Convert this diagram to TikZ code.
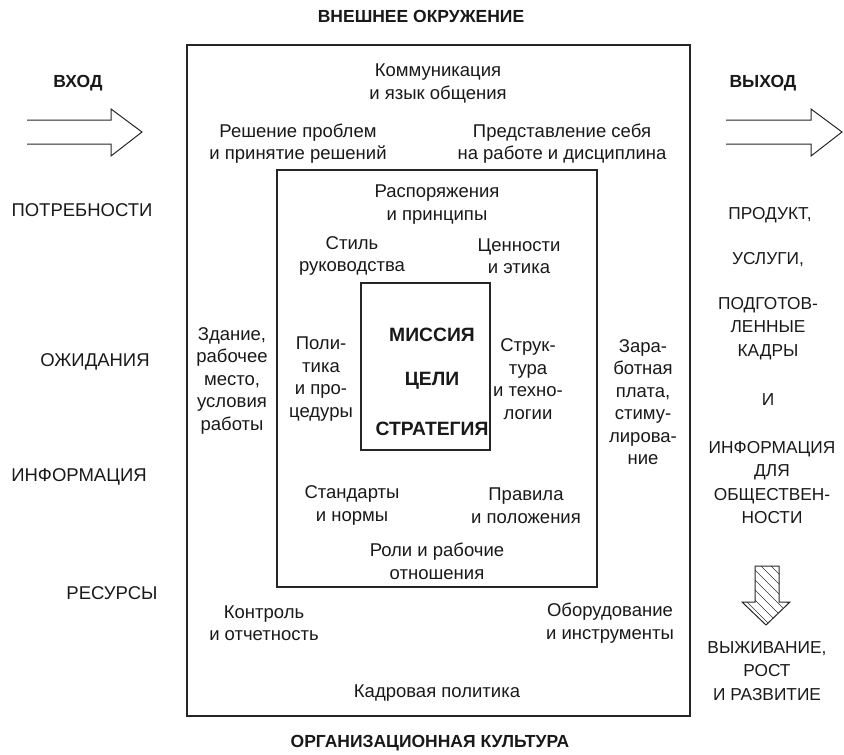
\documentclass[tikz,border=0pt]{standalone}
\usepackage{fontspec}
\setmainfont{Liberation Sans}
\begin{document}
\begin{tikzpicture}[x=1pt,y=-1pt,
  txt/.style={inner sep=0pt, align=center, text=black!90, font=\fontsize{18.5}{22.5}\selectfont},
  rt/.style={inner sep=0pt, align=center, text=black!90, font=\fontsize{17.3}{23.5}\selectfont},
  hd/.style={inner sep=0pt, align=center, text=black!90, font=\bfseries\fontsize{17.5}{21}\selectfont},
  core/.style={inner sep=0pt, align=center, text=black!90, font=\bfseries\fontsize{19.3}{22}\selectfont},
  frame/.style={draw=black!85, line width=1.3pt},
  outline/.style={draw=black!85, line width=1pt, line join=miter}]
\useasboundingbox (0,0) rectangle (844,755);
% boxes
\draw[frame, line width=1.7pt] (187,45) rectangle (690,716);
\draw[frame] (277,170) rectangle (597,587);
\draw[frame] (361,283) rectangle (490,450);
% titles
\node[hd] (env) at (421,16) {ВНЕШНЕЕ ОКРУЖЕНИЕ};
\node[hd] (cult) at (430,743) {ОРГАНИЗАЦИОННАЯ КУЛЬТУРА};
\node[hd] (in) at (78,83) {ВХОД};
\node[hd] (out) at (763,83) {ВЫХОД};
% input arrow
\draw[outline] (27,120) -- (111,120) -- (111,109) -- (142,132) -- (111,156) -- (111,144) -- (27,144);
% output arrow
\draw[outline] (726,120) -- (811,120) -- (811,109) -- (842,132) -- (811,156) -- (811,144) -- (726,144);
% left column
\node[txt] (n1) at (82,210) {ПОТРЕБНОСТИ};
\node[txt] (n2) at (95,362) {ОЖИДАНИЯ};
\node[txt] (n3) at (79,477) {ИНФОРМАЦИЯ};
\node[txt] (n4) at (112,593) {РЕСУРСЫ};
% right column
\node[rt] (o1) at (770,215) {ПРОДУКТ,};
\node[rt] (o2) at (768,260) {УСЛУГИ,};
\node[rt] (o3) at (768,328.5) {ПОДГОТОВ-\\ЛЕННЫЕ\\КАДРЫ};
\node[rt] (o4) at (768,400) {И};
\node[rt] (o5) at (772,482.5) {ИНФОРМАЦИЯ\\ДЛЯ\\ОБЩЕСТВЕН-\\НОСТИ};
\node[rt] (o6) at (767,671) {ВЫЖИВАНИЕ,\\РОСТ\\И РАЗВИТИЕ};
% hatched down arrow
\begin{scope}
\clip (755,566) -- (779,566) -- (779,602) -- (790,602) -- (766,625) -- (742,602) -- (755,602) -- cycle;
\foreach \i in {-80,-70,...,80} \draw[black!80, line width=0.7pt] (735,560+\i) -- (800,625+\i);
\end{scope}
\draw[outline] (755,566) -- (779,566) -- (779,602) -- (790,602) -- (766,625) -- (742,602) -- (755,602) -- cycle;
% outer ring
\node[txt] (t1) at (438,83.5) {Коммуникация\\и язык общения};
\node[txt] (t2) at (298,143.5) {Решение проблем\\и принятие решений};
\node[txt] (t3) at (562,143.5) {Представление себя\\на работе и дисциплина};
\node[txt] (t4) at (232,380.5) {Здание,\\рабочее\\место,\\условия\\работы};
\node[txt] (t5) at (643,402) {Зара-\\ботная\\плата,\\стиму-\\лирова-\\ние};
\node[txt] (t6) at (264,623) {Контроль\\и отчетность};
\node[txt] (t7) at (610,623) {Оборудование\\и инструменты};
\node[txt] (t8) at (437,693) {Кадровая политика};
% middle ring
\node[txt] (m1) at (437,204.5) {Распоряжения\\и принципы};
\node[txt] (m2) at (352,256) {Стиль\\руководства};
\node[txt] (m3) at (519,256) {Ценности\\и этика};
\node[txt] (m4) at (321,379) {Поли-\\тика\\и про-\\цедуры};
\node[txt] (m5) at (528,379) {Струк-\\тура\\и техно-\\логии};
\node[txt] (m6) at (352,505.5) {Стандарты\\и нормы};
\node[txt] (m7) at (526,505.5) {Правила\\и положения};
\node[txt] (m8) at (437,561.5) {Роли и рабочие\\отношения};
% core
\node[core] (c1) at (432,335) {МИССИЯ};
\node[core] (c2) at (432,381) {ЦЕЛИ};
\node[core] (c3) at (432,429) {СТРАТЕГИЯ};
\end{tikzpicture}
\end{document}
